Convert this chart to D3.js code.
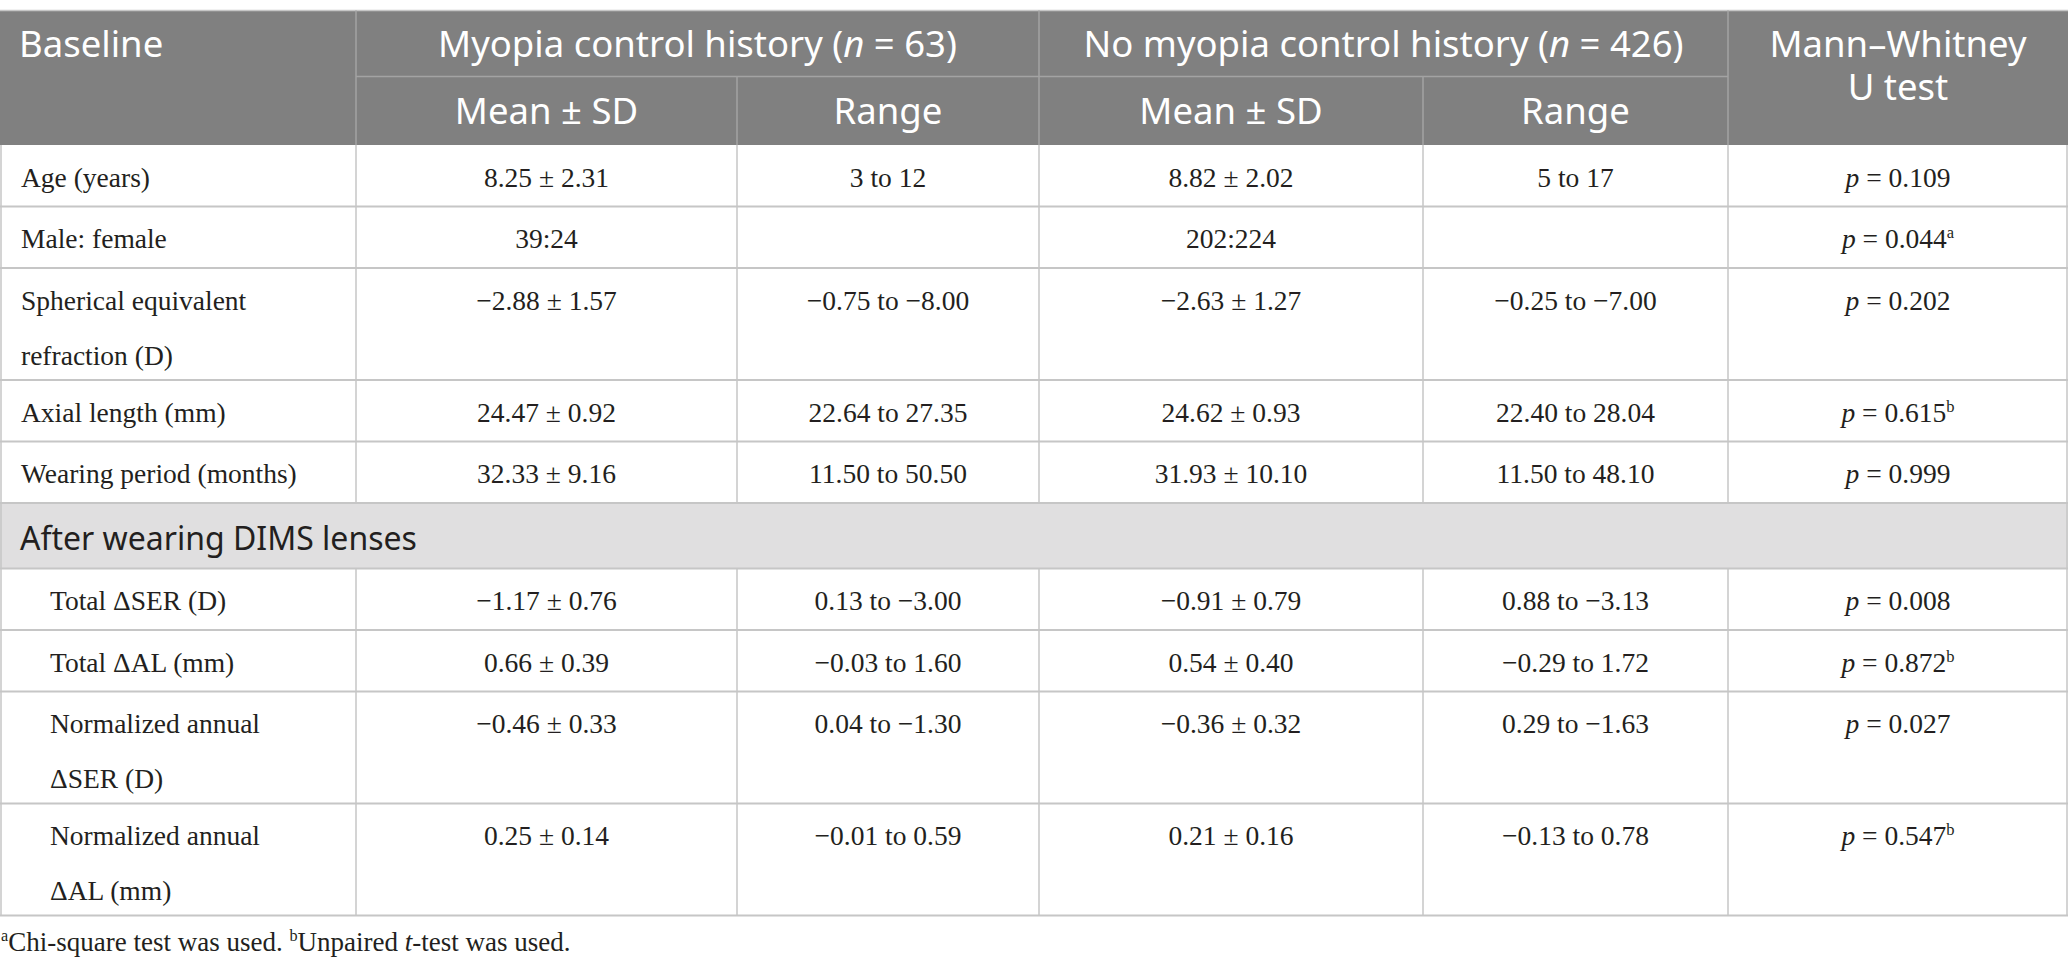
<!DOCTYPE html>
<html>
<head>
<meta charset="utf-8">
<script src="https://cdn.jsdelivr.net/npm/d3@7"></script>
<style>
  html, body { margin: 0; padding: 0; background: #fff; }
  svg { display: block; }
</style>
</head>
<body>
<div id="chart"></div>
<script>
// ---------- DATA ----------
const groupHeaders = [
  ["Myopia control history (", {it: "n"}, " = 63)"],
  ["No myopia control history (", {it: "n"}, " = 426)"]
];
const subHeaders = ["Mean ± SD", "Range", "Mean ± SD", "Range"];
const firstHeader = "Baseline";
const testHeader = ["Mann–Whitney", "U test"];
const sectionLabel = "After wearing DIMS lenses";

const rowLabels = [
  ["Age (years)"],
  ["Male: female"],
  ["Spherical equivalent", "refraction (D)"],
  ["Axial length (mm)"],
  ["Wearing period (months)"],
  ["Total ΔSER (D)"],
  ["Total ΔAL (mm)"],
  ["Normalized annual", "ΔSER (D)"],
  ["Normalized annual", "ΔAL (mm)"]
];
const rowSection = [0, 0, 0, 0, 0, 1, 1, 1, 1];
const mcMean  = ["8.25 ± 2.31", "39:24", "−2.88 ± 1.57", "24.47 ± 0.92", "32.33 ± 9.16",
                 "−1.17 ± 0.76", "0.66 ± 0.39", "−0.46 ± 0.33", "0.25 ± 0.14"];
const mcRange = ["3 to 12", "", "−0.75 to −8.00", "22.64 to 27.35", "11.50 to 50.50",
                 "0.13 to −3.00", "−0.03 to 1.60", "0.04 to −1.30", "−0.01 to 0.59"];
const nmMean  = ["8.82 ± 2.02", "202:224", "−2.63 ± 1.27", "24.62 ± 0.93", "31.93 ± 10.10",
                 "−0.91 ± 0.79", "0.54 ± 0.40", "−0.36 ± 0.32", "0.21 ± 0.16"];
const nmRange = ["5 to 17", "", "−0.25 to −7.00", "22.40 to 28.04", "11.50 to 48.10",
                 "0.88 to −3.13", "−0.29 to 1.72", "0.29 to −1.63", "−0.13 to 0.78"];
const pValues = ["0.109", "0.044", "0.202", "0.615", "0.999", "0.008", "0.872", "0.027", "0.547"];
const pNotes  = ["", "a", "", "b", "", "", "b", "", "b"];
const footnote = [{sup: "a"}, "Chi-square test was used. ", {sup: "b"}, "Unpaired ", {it: "t"}, "-test was used."];

// ---------- LAYOUT ----------
const W = 2068, H = 971;
const colEdges = [0, 356, 737, 1039, 1423, 1728, 2068];
const tableTop = 10.5, hdr1 = 66, hdr2 = 68.5;
const singleH = 61.5, extraLineH = 50.5, lineGap = 55, sectionH = 65.5;
const sansFont = "'Noto Sans', 'Open Sans', sans-serif";
const serifFont = "'Liberation Serif', 'Times New Roman', serif";
const hdrSize = 36.5, sectionSize = 32, bodySize = 27.5, footSize = 27;
const headerBg = "#808080", headerLine = "#a3a3a3", gridLine = "#c6c6c6";
const textColor = "#231f20";

const svg = d3.select("#chart").append("svg").attr("width", W).attr("height", H);

const x = d3.scaleLinear().domain([0, W]).range([0, W]);
const colCenter = i => x((colEdges[i] + colEdges[i + 1]) / 2);

// parts: plain strings, {it: ...} italic runs, {sup: ...} superscripts
function writeParts(sel, parts, baseSize) {
  let pendingDy = 0;
  parts.forEach(p => {
    let t;
    if (typeof p === "string") t = sel.append("tspan").text(p);
    else if (p.it) t = sel.append("tspan").attr("font-style", "italic").text(p.it);
    if (t) {
      if (pendingDy) { t.attr("dy", pendingDy); pendingDy = 0; }
      return;
    }
    if (p.sup) {
      const rise = baseSize * 0.36;
      sel.append("tspan").attr("font-size", baseSize * 0.6).attr("dy", -rise - pendingDy).text(p.sup);
      pendingDy = rise;
    }
  });
}

// ---------- HEADER ----------
const hdrBottom = tableTop + hdr1 + hdr2;
svg.append("rect").attr("x", x(0)).attr("y", tableTop).attr("width", x(W)).attr("height", hdr1 + hdr2)
  .attr("fill", headerBg);
const hg = svg.append("g");
hg.append("line").attr("x1", x(0)).attr("x2", x(W)).attr("y1", tableTop).attr("y2", tableTop)
  .attr("stroke", gridLine).attr("stroke-width", 1.5);
hg.append("line").attr("x1", x(colEdges[1])).attr("x2", x(colEdges[5]))
  .attr("y1", tableTop + hdr1).attr("y2", tableTop + hdr1).attr("stroke", headerLine).attr("stroke-width", 1.5);
[1, 3, 5].forEach(i => hg.append("line").attr("x1", x(colEdges[i])).attr("x2", x(colEdges[i]))
  .attr("y1", tableTop).attr("y2", hdrBottom).attr("stroke", headerLine).attr("stroke-width", 1.5));
[2, 4].forEach(i => hg.append("line").attr("x1", x(colEdges[i])).attr("x2", x(colEdges[i]))
  .attr("y1", tableTop + hdr1).attr("y2", hdrBottom).attr("stroke", headerLine).attr("stroke-width", 1.5));

// y passed is the text's visual centre; baseline is computed directly
const hText = (tx, ty, anchor) => hg.append("text").attr("x", tx).attr("y", ty + hdrSize * 0.36)
  .attr("text-anchor", anchor)
  .attr("font-family", sansFont).attr("font-size", hdrSize).attr("fill", "#fff");

const h1c = tableTop + hdr1 / 2;
hText(x(19), h1c, "start").text(firstHeader);
writeParts(hText((x(colEdges[1]) + x(colEdges[3])) / 2, h1c, "middle"), groupHeaders[0], hdrSize);
writeParts(hText((x(colEdges[3]) + x(colEdges[5])) / 2, h1c, "middle"), groupHeaders[1], hdrSize);
// two-line header as one wrapped text
const mw = hText(colCenter(5), h1c, "middle");
testHeader.forEach((ln, k) => mw.append("tspan").attr("x", colCenter(5)).attr("dy", k === 0 ? 0 : 43).text(ln));
subHeaders.forEach((s, i) => hText(colCenter(i + 1), tableTop + hdr1 + hdr2 / 2, "middle").text(s));

// ---------- BODY ----------
const rows = [];
let yCur = hdrBottom;
rowLabels.forEach((lab, i) => {
  if (i > 0 && rowSection[i] !== rowSection[i - 1]) {
    rows.push({section: true, y: yCur, h: sectionH});
    yCur += sectionH;
  }
  const h = singleH + (lab.length - 1) * extraLineH;
  rows.push({section: false, y: yCur, h: h, i: i});
  yCur += h;
});
const tableBottom = yCur;

const bg = svg.append("g");
rows.filter(r => r.section).forEach(r => {
  bg.append("rect").attr("x", x(0)).attr("y", r.y).attr("width", x(W)).attr("height", r.h).attr("fill", "#e0dfe0");
  bg.append("text").attr("x", x(20)).attr("y", r.y + r.h / 2 + 2.5 + sectionSize * 0.36)
    .attr("font-family", sansFont).attr("font-size", sectionSize).attr("fill", textColor).text(sectionLabel);
});
rows.forEach(r => {
  bg.append("line").attr("x1", x(0)).attr("x2", x(W)).attr("y1", r.y + r.h).attr("y2", r.y + r.h)
    .attr("stroke", gridLine).attr("stroke-width", 2);
});
rows.filter(r => !r.section).forEach(r => {
  colEdges.forEach((cx, j) => {
    const xx = j === 0 ? 1 : (j === colEdges.length - 1 ? W - 1 : x(cx));
    bg.append("line").attr("x1", xx).attr("x2", xx).attr("y1", r.y).attr("y2", r.y + r.h)
      .attr("stroke", gridLine).attr("stroke-width", 1.5);
  });
});
rows.filter(r => r.section).forEach(r => {
  [1, W - 1].forEach(xx => bg.append("line").attr("x1", xx).attr("x2", xx).attr("y1", r.y).attr("y2", r.y + r.h)
    .attr("stroke", gridLine).attr("stroke-width", 1.5));
});

const tg = svg.append("g").attr("font-family", serifFont).attr("font-size", bodySize).attr("fill", textColor);
const bText = (tx, ty, anchor) => tg.append("text").attr("x", tx).attr("y", ty + bodySize * 0.34)
  .attr("text-anchor", anchor);

rows.filter(r => !r.section).forEach(r => {
  const i = r.i;
  const y0 = r.y + 32.3;
  const indent = rowSection[i] ? 50 : 21;
  rowLabels[i].forEach((ln, k) => bText(x(indent), y0 + k * lineGap, "start").text(ln));
  [mcMean, mcRange, nmMean, nmRange].forEach((arr, c) => {
    if (arr[i]) bText(colCenter(c + 1), y0, "middle").text(arr[i]);
  });
  const parts = [{it: "p"}, " = " + pValues[i]];
  if (pNotes[i]) parts.push({sup: pNotes[i]});
  writeParts(bText(colCenter(5), y0, "middle"), parts, bodySize);
});

// ---------- FOOTNOTE ----------
const fn = svg.append("text").attr("x", 1).attr("y", tableBottom + 35.5)
  .attr("font-family", serifFont).attr("font-size", footSize).attr("fill", textColor);
writeParts(fn, footnote, footSize);
</script>
</body>
</html>
